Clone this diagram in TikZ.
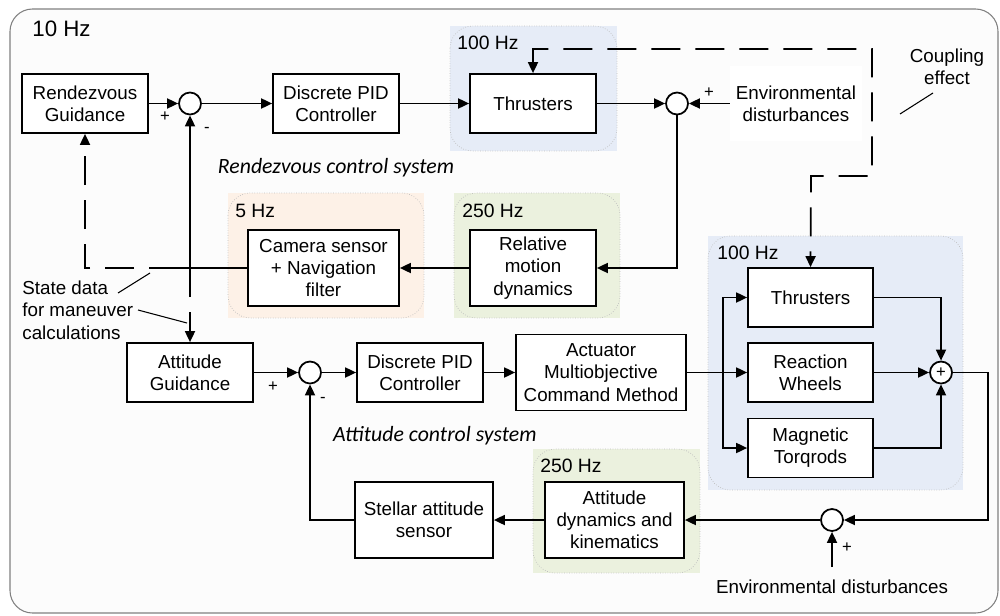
\documentclass[tikz,border=0pt]{standalone}
\usepackage{fontspec}
\setmainfont{Liberation Sans}
\newfontfamily\calibri{Carlito}
\usetikzlibrary{arrows.meta,positioning}

\definecolor{regblue}{HTML}{E6ECF7}
\definecolor{reggreen}{HTML}{EBF1DE}
\definecolor{regorange}{HTML}{FDF1E7}
\definecolor{framefill}{HTML}{FCFCFC}

\tikzset{
  blk/.style={draw,line width=1pt,fill=white,minimum width=2.52cm,minimum height=1.18cm,align=center,inner sep=1pt},
  blkhi/.style={blk,minimum height=1.52cm},
  sumj/.style={draw,circle,line width=1pt,fill=white,minimum size=0.44cm,inner sep=0pt},
  region/.style={draw=black!25,line width=0.4pt,densely dotted,rounded corners=0.45cm},
  hz/.style={font=\fontsize{11}{12}\selectfont,anchor=west,inner sep=0pt},
  sgn/.style={font=\fontsize{9.5}{10}\selectfont,inner sep=0pt},
  sig/.style={line width=1pt,-{Triangle[length=0.22cm,width=0.2cm]}},
  coupling/.style={line width=1pt,dash pattern=on 0.58cm off 0.3cm},
  lead/.style={line width=0.6pt},
  sysname/.style={font=\calibri\itshape\fontsize{12.4}{14}\selectfont},
}

\begin{document}
\begin{tikzpicture}[x=0.02cm,y=-0.02cm,font=\fontsize{10.7}{12.6}\selectfont]

\useasboundingbox (0,0) rectangle (1000,615);
\draw[black!50,fill=framefill,rounded corners=0.45cm,line width=0.6pt] (10,9) rectangle (998,613);
\node[anchor=west,inner sep=0pt,font=\fontsize{12.7}{14}\selectfont] (hzmain) at (32,29) {10 Hz};

%rate regions
\fill[regblue] (450,26) rectangle (617,151);
\draw[region] (450,26) rectangle (617,151);
\node[hz] (hzthr) at (457,43) {100 Hz};

\fill[regorange] (228,193) rectangle (424,318);
\draw[region] (228,193) rectangle (424,318);
\node[hz] (hzcam) at (235,211) {5 Hz};

\fill[reggreen] (454,193) rectangle (620,318);
\draw[region] (454,193) rectangle (620,318);
\node[hz] (hzrel) at (462,211) {250 Hz};

\fill[regblue] (708,236) rectangle (963,490);
\draw[region] (708,236) rectangle (963,490);
\node[hz] (hzact) at (717,253) {100 Hz};

\fill[reggreen] (533,449) rectangle (700,573);
\draw[region] (533,449) rectangle (700,573);
\node[hz] (hzdyn) at (540,466) {250 Hz};

%Rendezvous loop
\node[blk] (rg) at (85,103.5) {Rendezvous\\Guidance};
\node[sumj] (s1) at (190,103.5) {};
\node[blk] (pid1) at (336,103.5) {Discrete PID\\Controller};
\node[blk] (thrR) at (533,103.5) {Thrusters};
\node[sumj] (s2) at (677,103.5) {};
\node[fill=white,align=center,minimum width=2.64cm,minimum height=1.52cm] (envR) at (796,103.5) {Environmental\\disturbances};
\node[align=center] (coup) at (947,67) {Coupling\\effect};
\node[sysname] (rcs) at (336,168) {Rendezvous control system};
\node[blkhi,minimum width=3.02cm] (cam) at (323.5,268) {Camera sensor\\+ Navigation\\filter};
\node[blkhi] (rel) at (533,268) {Relative\\motion\\dynamics};
\node[align=left,anchor=west,inner sep=0pt,font=\fontsize{10.7}{12.9}\selectfont] (sd) at (22,310) {State data\\for maneuver\\calculations};

%Attitude loop
\node[blk] (ag) at (190,372.5) {Attitude\\Guidance};
\node[sumj] (s3) at (310,372.5) {};
\node[blk] (pid2) at (420,372.5) {Discrete PID\\Controller};
\node[blkhi,minimum width=3.4cm] (act) at (601,372.5) {Actuator\\Multiobjective\\Command Method};
\node[blk,minimum width=2.5cm] (thrA) at (810.5,297.5) {Thrusters};
\node[blk,minimum width=2.5cm] (rw) at (810.5,372.5) {Reaction\\Wheels};
\node[blk,minimum width=2.5cm] (mt) at (810.5,448) {Magnetic\\Torqrods};
\node[sumj,font=\fontsize{9.5}{10}\selectfont] (s5) at (941,372.5) {+};
\node[sysname,anchor=west] (acs) at (327,436) {Attitude control system};
\node[blkhi,minimum width=2.76cm] (stel) at (424,520) {Stellar attitude\\sensor};
\node[blkhi,minimum width=2.78cm] (adyn) at (614.5,520) {Attitude\\dynamics and\\kinematics};
\node[sumj] (s4) at (832,520) {};
\node (envA) at (832,587) {Environmental disturbances};

%signs
\node[sgn] (p1) at (165,117) {+};
\node[sgn] (m1) at (207,130) {-};
\node[sgn] (p2) at (709,93) {+};
\node[sgn] (p3) at (273,387) {+};
\node[sgn] (m3) at (323,400) {-};
\node[sgn] (p4) at (847,548) {+};

%coordinates
\coordinate (sdA) at (163,268);
\coordinate (sjA) at (190,297);
\coordinate (sjB) at (190,312);
\coordinate (cpA) at (533,49);
\coordinate (cpB) at (872,49);
\coordinate (cpC) at (872,176);
\coordinate (cpD) at (811,176);
\coordinate (br) at (723,372.5);
\coordinate (retA) at (988,372.5);
\coordinate (edA) at (832,567);
\coordinate (lcA) at (933,93);
\coordinate (lcB) at (900,114);
\coordinate (lsA) at (118,293);
\coordinate (lsB) at (150,273);
\coordinate (lmA) at (138,310);
\coordinate (lmB) at (187,323);

%rendezvous connectors
\draw[sig] (rg) -- (s1);
\draw[sig] (s1) -- (pid1);
\draw[sig] (pid1) -- (thrR);
\draw[sig] (thrR) -- (s2);
\draw[sig] (envR) -- (s2);
\draw[sig] (s2) |- (rel.east);
\draw[sig] (rel) -- (cam);
\draw[line width=1pt] (cam.west) -- (sdA);
\draw[coupling,sig,dash phase=0.3cm] (sdA) -| (rg.south);
\draw[sig] (sjA) -- (s1.south);
\draw[sig] (sjB) -- (ag.north);

%coupling effect
\draw[coupling,{Triangle[length=0.22cm,width=0.2cm]}-{Triangle[length=0.22cm,width=0.2cm]}]
  (thrR.north) -- (cpA) -- (cpB) -- (cpC) -- (cpD) -- (thrA.north);

%attitude connectors
\draw[sig] (ag) -- (s3);
\draw[sig] (s3) -- (pid2);
\draw[sig] (pid2) -- (act);
\draw[sig] (act) -- (rw);
\draw[sig] (br) |- (thrA.west);
\draw[sig] (br) |- (mt.west);
\draw[sig] (thrA.east) -| (s5.north);
\draw[sig] (rw) -- (s5);
\draw[sig] (mt.east) -| (s5.south);
\draw[sig] (s5.east) -- (retA) |- (s4.east);
\draw[sig] (edA) -- (s4.south);
\draw[sig] (s4) -- (adyn);
\draw[sig] (adyn) -- (stel);
\draw[sig] (stel.west) -| (s3.south);

%leaders
\draw[lead] (lcA) -- (lcB);
\draw[lead] (lsA) -- (lsB);
\draw[lead] (lmA) -- (lmB);

\end{tikzpicture}
\end{document}
